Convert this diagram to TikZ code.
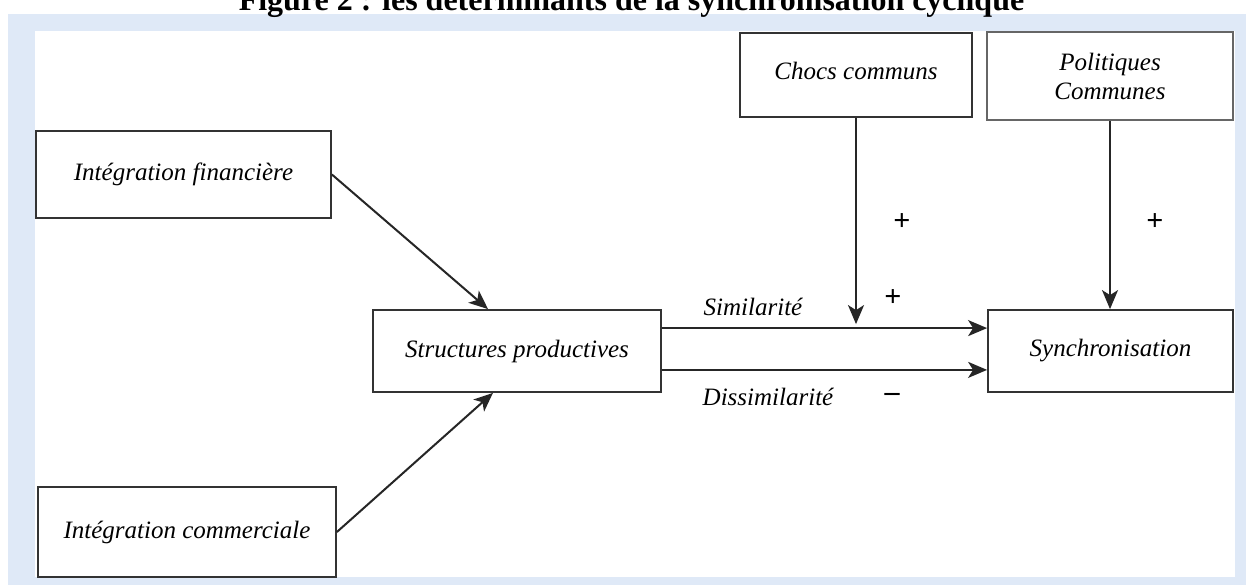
\documentclass[tikz,border=0pt]{standalone}
\usepackage{fontspec}
\setmainfont{Liberation Serif}
\usetikzlibrary{%
    arrows.meta,%
    positioning,%
    calc%
}
\definecolor{framebg}{HTML}{DFE9F7}
\definecolor{boxline}{HTML}{333333}

\begin{document}
\begin{tikzpicture}[x=1pt, y=-1pt,
    box/.style = {draw = boxline, line width = 1.8pt, fill = white, inner sep = 0pt,
                  font = \fontsize{25}{29}\selectfont\itshape, align = center},
    link/.style = {draw = black!85, line width = 2pt, -{Stealth[length=19pt, width=16pt, inset=5pt]}},
    lbl/.style = {font = \fontsize{25}{29}\selectfont\itshape, inner sep = 0pt, anchor = base},
    sgn/.style = {font = \fontsize{30}{34}\selectfont\bfseries, inner sep = 0pt}]
    \useasboundingbox (0,0) rectangle (1246,585);
    \clip (0,0) rectangle (1246,585);

    % Define the frame
    \fill[framebg] (8,14) rectangle (1246,585);
    \fill[white] (35,31) rectangle (1235,577);
    \node[anchor = base, font = \fontsize{32}{36}\selectfont\bfseries] (title) at (631.5,11)
        {Figure 2 : les déterminants de la synchronisation cyclique};

    % Define the boxes
    \node[box, minimum width = 295pt, minimum height = 87pt] (fin) at (183.5,174.5) {Intégration financière};
    \node[box, minimum width = 298pt, minimum height = 90pt] (com) at (187,532) {Intégration commerciale};
    \node[box, minimum width = 288pt, minimum height = 82pt] (struct) at (517,351) {Structures productives};
    \node[box, minimum width = 232pt, minimum height = 84pt] (chocs) at (856,75) {\raisebox{9pt}{Chocs communs}};
    \node[box, minimum width = 246pt, minimum height = 88pt, draw = black!60] (pol) at (1110,76) {Politiques\\Communes};
    \node[box, minimum width = 245pt, minimum height = 82pt] (sync) at (1110.5,351) {Synchronisation};

    % Define the anchor points on the edges
    \coordinate (s1) at ([yshift=-19pt]struct.north east);
    \coordinate (s2) at ([yshift=23pt]struct.south east);
    \coordinate (simtip) at ([yshift=4pt]chocs.south |- s1);

    % Draw the connectors
    \draw[link] (fin.east) -- ($(struct.north west)!0.4!(struct.north east)$);
    \draw[link] (com.east) -- ($(struct.south west)!0.417!(struct.south east)$);
    \draw[link] (s1) -- (s1 -| sync.west);
    \draw[link] (s2) -- (s2 -| sync.west);
    \draw[link] (chocs.south) -- (simtip);
    \draw[link] (pol.south) -- (pol.south |- sync.north);

    % Labels
    \node[lbl] (sim) at (753,315) {Similarité};
    \node[lbl] (dis) at (768,405) {Dissimilarité};
    \node[sgn] (pchocs) at (902,222) {+};
    \node[sgn] (psim) at (893,298) {+};
    \node[sgn] (pdis) at (892,397) {--};
    \node[sgn] (ppol) at (1155,222) {+};
\end{tikzpicture}
\end{document}
